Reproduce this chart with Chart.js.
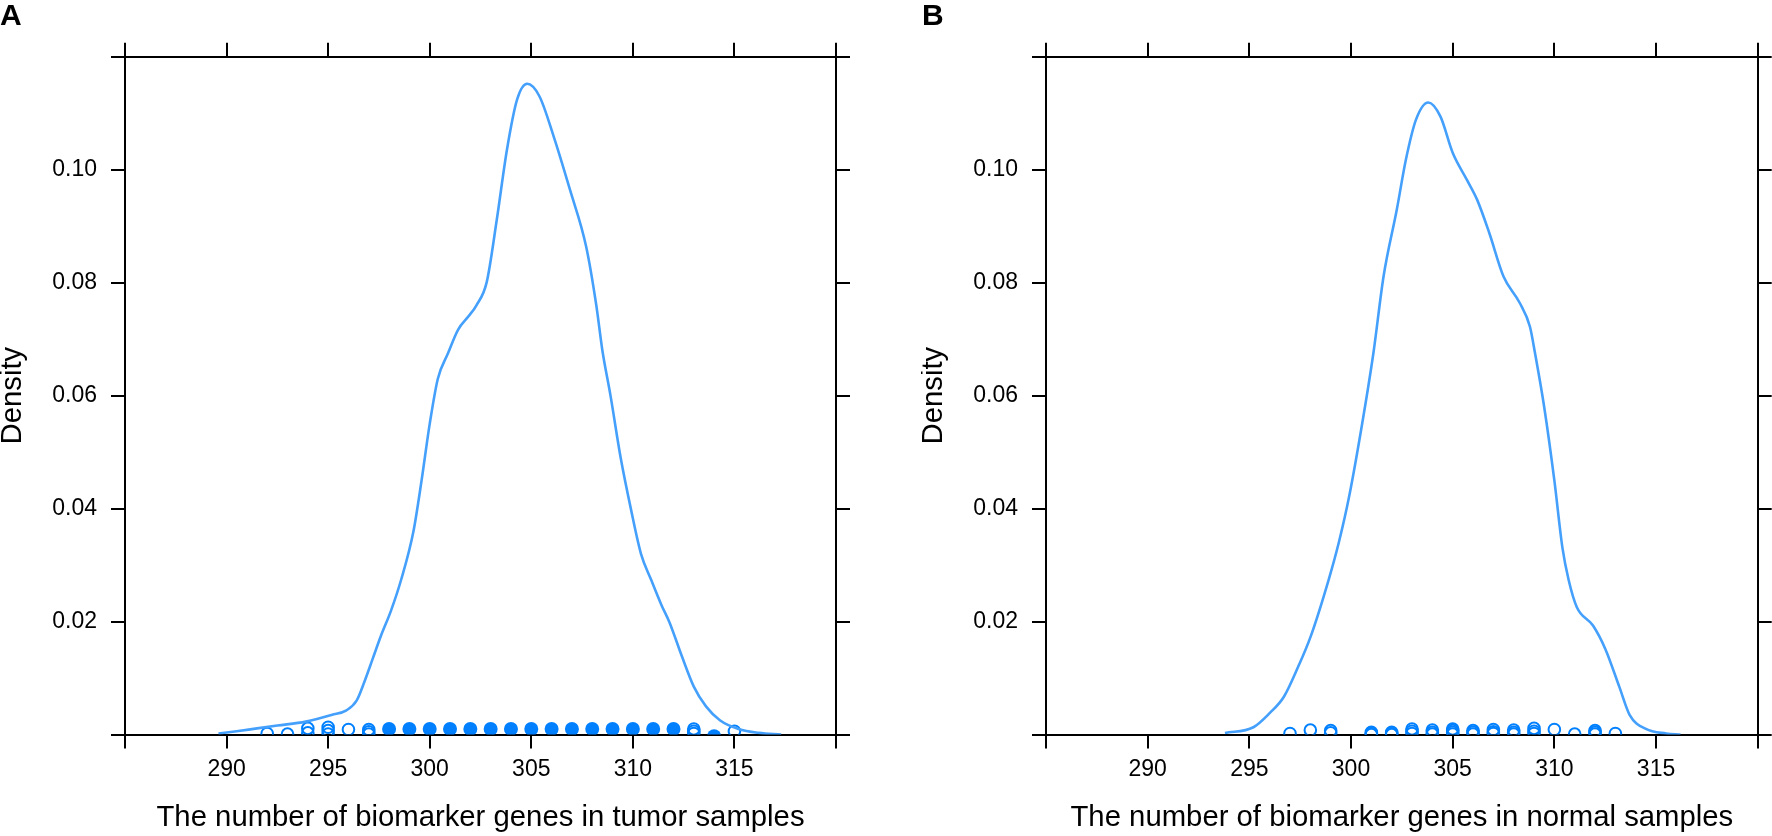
<!DOCTYPE html>
<html>
<head>
<meta charset="utf-8">
<script src="https://cdn.jsdelivr.net/npm/chart.js@4.4.1/dist/chart.umd.min.js"></script>
<style>
body{margin:0;background:#fff;width:1772px;height:836px;overflow:hidden;position:relative;font-family:"Liberation Sans",Arial,sans-serif}
canvas{position:absolute;top:0}
#graficoTumor{left:0}
#graficoNormal{left:921px}
.letra{position:absolute;top:0;font-weight:bold;font-size:30px;line-height:1;color:#000}
</style>
</head>
<body>
<canvas id="graficoTumor" width="886" height="836"></canvas>
<canvas id="graficoNormal" width="851" height="836"></canvas>
<div class="letra" style="left:0">A</div>
<div class="letra" style="left:922px">B</div>
<script>
// ticks do eixo
const ticksX = [285, 290, 295, 300, 305, 310, 315, 320];
const rotulosX = ['', '290', '295', '300', '305', '310', '315', ''];
const ticksY = [0, 0.02, 0.04, 0.06, 0.08, 0.10, 0.12];
const rotulosY = ['', '0.02', '0.04', '0.06', '0.08', '0.10', ''];

// curva de densidade - tumor
const tumorX = [289.6, 290.5, 291.5, 292.5, 293.9, 295.2, 295.9, 296.4, 296.8, 297.2, 297.6, 298.1, 298.6, 299.2, 299.6, 300.0, 300.4, 300.9, 301.4, 301.9, 302.3, 302.8, 303.3, 303.8, 304.3, 304.8, 305.4, 306.1, 306.9, 307.7, 308.2, 308.5, 308.9, 309.4, 309.9, 310.4, 310.9, 311.4, 311.8, 312.4, 313.0, 313.6, 314.3, 315.2, 316.2, 317.3];
const tumorDens = [0.0002, 0.0006, 0.0011, 0.0016, 0.0023, 0.0035, 0.0043, 0.0060, 0.0095, 0.0135, 0.0175, 0.0220, 0.0275, 0.0360, 0.0450, 0.0550, 0.0630, 0.0675, 0.0717, 0.0740, 0.0760, 0.0800, 0.0911, 0.1035, 0.1124, 0.1152, 0.1130, 0.1059, 0.0965, 0.0864, 0.0760, 0.0680, 0.0600, 0.0490, 0.0400, 0.0320, 0.0274, 0.0230, 0.0199, 0.0140, 0.0085, 0.0050, 0.0025, 0.0010, 0.0003, 0.0000];

// curva de densidade - normal
const normalX = [293.8, 295.2, 296.0, 296.7, 297.4, 298.0, 298.9, 299.4, 299.9, 300.5, 301.1, 301.6, 302.25, 302.7, 303.2, 303.8, 304.4, 305.0, 305.7, 306.2, 306.8, 307.5, 308.3, 308.8, 309.05, 309.5, 310.0, 310.4, 310.7, 311.1, 311.9, 312.5, 313.2, 313.7, 314.5, 315.5, 316.2];
const normalDens = [0.0003, 0.0013, 0.0038, 0.0067, 0.0120, 0.0172, 0.0274, 0.0340, 0.0420, 0.0540, 0.0675, 0.0811, 0.0929, 0.1018, 0.1089, 0.1119, 0.1094, 0.1030, 0.0982, 0.0947, 0.0888, 0.0811, 0.0764, 0.0722, 0.0675, 0.0580, 0.0450, 0.0330, 0.0274, 0.0226, 0.0193, 0.0152, 0.0084, 0.0035, 0.0010, 0.0002, 0.0000];

// pontos (jitter) - tumor
const tumorAbertosX = [292, 293, 294, 294, 295, 295, 295, 296, 297, 297, 297, 313, 313, 313, 315];
const tumorAbertosY = [0.0002, 0.0001, 0.0003, 0.0011, 0.0001, 0.0007, 0.0013, 0.0009, 0.0001, 0.0005, 0.0009, 0.0002, 0.0006, 0.0010, 0.0006];
const tumorCheiosX = [298, 299, 300, 301, 302, 303, 304, 305, 306, 307, 308, 309, 310, 311, 312, 314];
const tumorCheiosY = [0.001, 0.001, 0.001, 0.001, 0.001, 0.001, 0.001, 0.001, 0.001, 0.001, 0.001, 0.001, 0.001, 0.001, 0.001, -0.0003];

// pontos (jitter) - normal
const normalAbertosX = [297, 298, 299, 299, 301, 301, 301, 302, 302, 302, 303, 303, 303, 304, 304, 304, 305, 305, 305, 305, 306, 306, 306, 307, 307, 307, 308, 308, 308, 309, 309, 309, 310, 311, 312, 312, 312, 313];
const normalAbertosY = [0.0002, 0.0008, 0.0003, 0.0007, 0.0000, 0.0002, 0.0004, 0.0000, 0.0002, 0.0004, 0.0002, 0.0006, 0.0010, 0.0001, 0.0004, 0.0008, 0.0001, 0.0004, 0.0007, 0.0010, 0.0001, 0.0004, 0.0007, 0.0002, 0.0005, 0.0009, 0.0001, 0.0004, 0.0008, 0.0002, 0.0006, 0.0011, 0.0009, 0.0001, 0.0001, 0.0004, 0.0007, 0.0002];
const normalCheiosX = [];
const normalCheiosY = [];

Chart.defaults.font.family = '"Liberation Sans", Arial, Helvetica, sans-serif';
Chart.defaults.color = '#000';

document.addEventListener('DOMContentLoaded', function() {
  graficoDensidade('graficoTumor', tumorX, tumorDens, tumorAbertosX, tumorAbertosY, tumorCheiosX, tumorCheiosY,
    'The number of biomarker genes in tumor samples', 125, 50);
  graficoDensidade('graficoNormal', normalX, normalDens, normalAbertosX, normalAbertosY, normalCheiosX, normalCheiosY,
    'The number of biomarker genes in normal samples', 125, 14.3);
});

function juntar(xs, ys){
  let pts = [];
  for (let i = 0; i < xs.length; i++) {
    pts.push({x: xs[i], y: ys[i]});
  }
  return pts;
}

function grade(){
  return {drawOnChartArea: false, drawTicks: true, tickLength: 14, color: '#000', lineWidth: 2};
}

function graficoDensidade(id, curvaX, curvaY, abX, abY, chX, chY, tituloX, largEsq, largDir){
  const ctx = document.getElementById(id);
  const topo = 56.7;
  const base = 836 - 734.6;

  new Chart(ctx, {
    type: 'scatter',
    data: {
      datasets: [{
        type: 'line',
        data: juntar(curvaX, curvaY),
        borderColor: '#45a0fc',
        borderWidth: 2.6,
        pointRadius: 0,
        cubicInterpolationMode: 'monotone',
        fill: false,
        clip: 0
      }, {
        data: juntar(abX, abY),
        pointRadius: 5.8,
        borderWidth: 2,
        borderColor: '#0080ff',
        backgroundColor: 'rgba(0,0,0,0)',
        clip: 0
      }, {
        data: juntar(chX, chY),
        pointRadius: 7,
        borderWidth: 0,
        backgroundColor: '#0080ff',
        clip: 0
      }]
    },
    options: {
      responsive: false,
      animation: false,
      events: [],
      layout: {padding: 0},
      plugins: {legend: {display: false}, tooltip: {enabled: false}},
      scales: {
        x: {
          type: 'linear', position: 'bottom', min: 285, max: 320,
          afterBuildTicks: function(s){ s.ticks = ticksX.map(v => ({value: v})); },
          ticks: {autoSkip: false, maxRotation: 0, padding: 7, font: {size: 23},
            callback: function(v, i){ return rotulosX[i]; }},
          grid: grade(),
          border: {display: true, color: '#000', width: 2},
          title: {display: true, text: tituloX, font: {size: 29.3}, padding: {top: 0, bottom: 1}},
          afterFit: function(s){ s.height = base; }
        },
        x2: {
          type: 'linear', position: 'top', min: 285, max: 320,
          afterBuildTicks: function(s){ s.ticks = ticksX.map(v => ({value: v})); },
          ticks: {display: false},
          grid: grade(),
          border: {display: true, color: '#000', width: 2},
          afterFit: function(s){ s.height = topo; }
        },
        y: {
          type: 'linear', position: 'left', min: 0, max: 0.12,
          afterBuildTicks: function(s){ s.ticks = ticksY.map(v => ({value: v})); },
          ticks: {autoSkip: false, padding: 14, font: {size: 23},
            callback: function(v, i){ return rotulosY[i]; }},
          grid: grade(),
          border: {display: true, color: '#000', width: 2},
          title: {display: true, text: 'Density', font: {size: 29.3, lineHeight: 0.9}, padding: 0},
          afterFit: function(s){ s.width = largEsq; }
        },
        y2: {
          type: 'linear', position: 'right', min: 0, max: 0.12,
          afterBuildTicks: function(s){ s.ticks = ticksY.map(v => ({value: v})); },
          ticks: {display: false},
          grid: grade(),
          border: {display: true, color: '#000', width: 2},
          afterFit: function(s){ s.width = largDir; }
        }
      }
    }
  });
}
</script>
</body>
</html>
